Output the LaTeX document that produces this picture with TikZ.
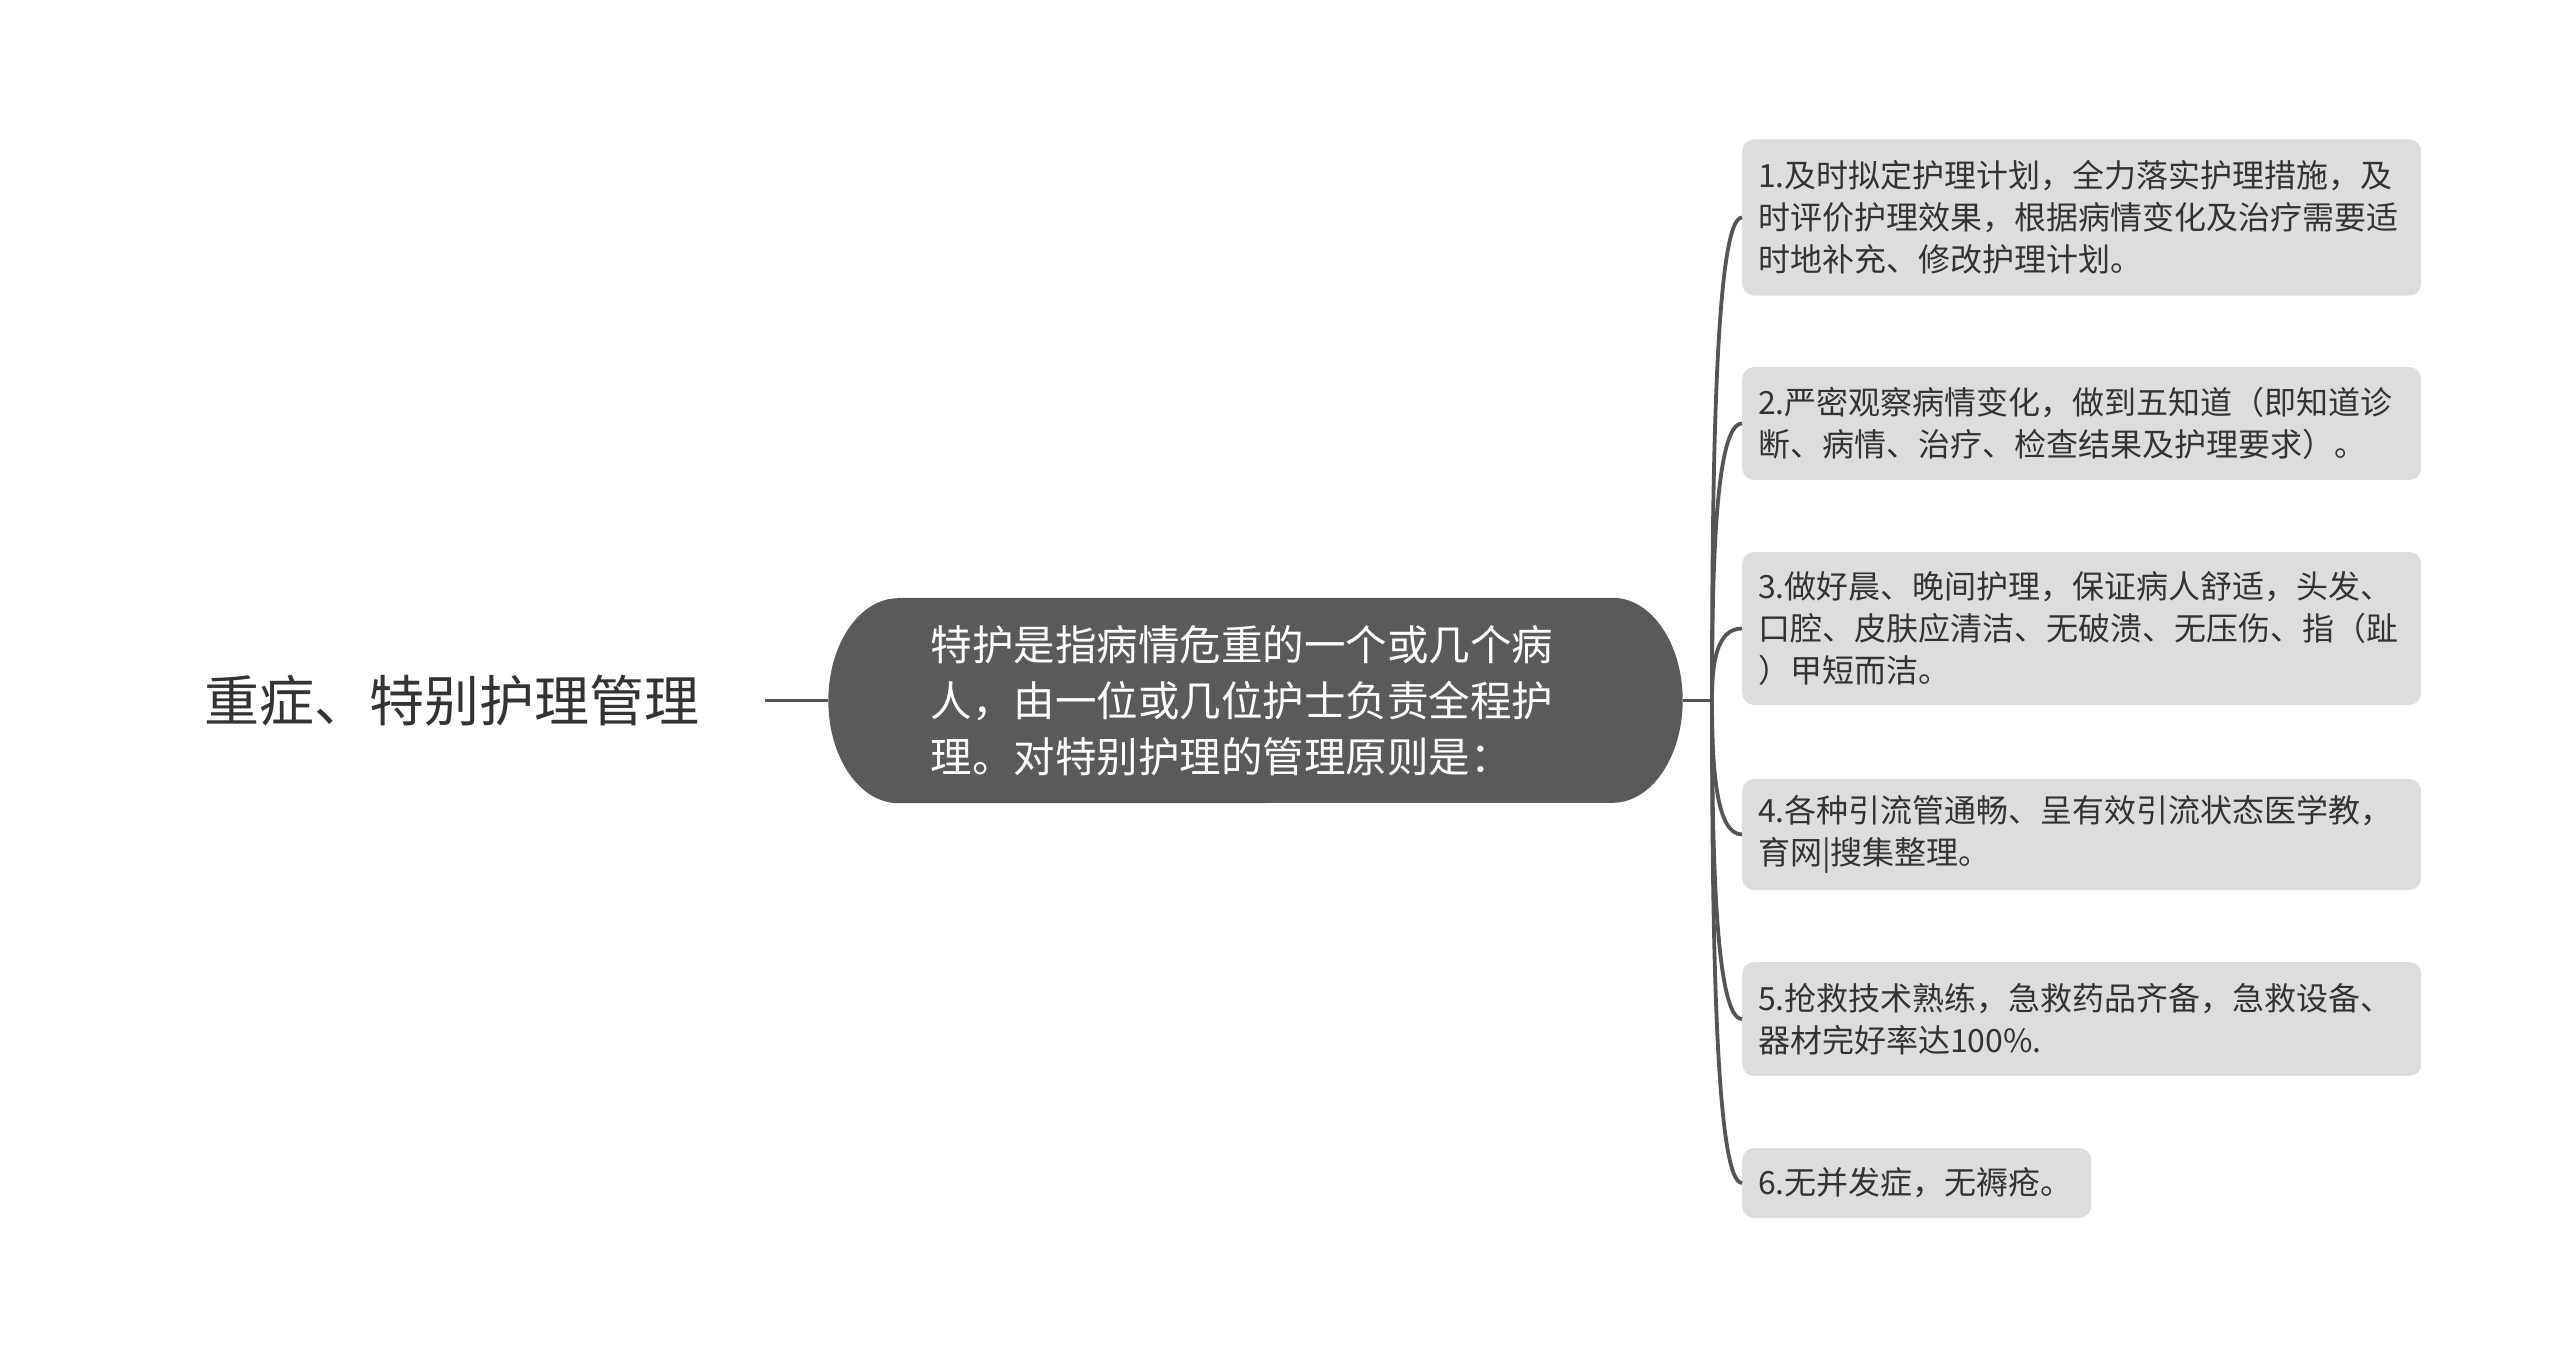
\documentclass[tikz,border=0pt]{standalone}
\usepackage{fontspec}
\setmainfont{Noto Sans CJK SC}
\usetikzlibrary{calc,backgrounds}
\definecolor{linegray}{HTML}{555555}
\definecolor{boxgray}{HTML}{DDDDDD}
\definecolor{centerfill}{HTML}{5A5A5A}
\definecolor{textdark}{HTML}{333333}
\tikzset{
  leafbox/.style={rounded corners=12pt, fill=boxgray, text=textdark, align=left,
    inner xsep=16pt, inner ysep=0pt, anchor=west, text width=647pt,
    font=\fontsize{32}{42}\selectfont},
  conn/.style={draw=linegray, line width=3.8pt},
}
\begin{document}
\begin{tikzpicture}[x=1pt,y=-1pt]
\useasboundingbox (0,0) rectangle (2560,1359);

\node[text=textdark, font=\fontsize{55}{66}\selectfont, inner xsep=65pt] (root) at (452,700.5) {重症、特别护理管理};

\node[text=white, align=left, text width=650pt, inner xsep=102pt, minimum height=205pt,
  font=\fontsize{41.5}{56}\selectfont] (c) at (1255.5,700.5)
  {特护是指病情危重的一个或几个病\\人，由一位或几位护士负责全程护\\理。对特别护理的管理原则是：};
\begin{scope}[on background layer]
\fill[centerfill] ([xshift=70pt]c.north west) -- ([xshift=-70pt]c.north east)
  arc[start angle=90, end angle=-90, x radius=70pt, y radius=102.5pt]
  -- ([xshift=70pt]c.south west)
  arc[start angle=270, end angle=90, x radius=70pt, y radius=102.5pt] -- cycle;
\end{scope}

\node[leafbox, minimum height=156pt] (l1) at (1742,217.5) {1.及时拟定护理计划，全力落实护理措施，及\\时评价护理效果，根据病情变化及治疗需要适\\时地补充、修改护理计划。};
\node[leafbox, minimum height=113pt] (l2) at (1742,423.5) {2.严密观察病情变化，做到五知道（即知道诊\\断、病情、治疗、检查结果及护理要求）。};
\node[leafbox, minimum height=153pt] (l3) at (1742,628.5) {3.做好晨、晚间护理，保证病人舒适，头发、\\口腔、皮肤应清洁、无破溃、无压伤、指（趾\\）甲短而洁。};
\node[leafbox, minimum height=111pt] (l4) at (1742,834.5) {4.各种引流管通畅、呈有效引流状态医学教，\\育网|搜集整理。};
\node[leafbox, minimum height=114pt] (l5) at (1742,1019) {5.抢救技术熟练，急救药品齐备，急救设备、\\器材完好率达100\%.};
\node[leafbox, minimum height=70pt, text width=317pt] (l6) at (1742,1183) {6.无并发症，无褥疮。};

\draw[conn] (root.east) -- (c.west);
\coordinate (t) at (1712,700.5);
\draw[conn] (c.east) -- (t);
\foreach \n in {l1,l2,l3,l4,l5,l6}{
  \draw[conn] (t) .. controls ($(t)!0.5!(t |- \n.west)$) and ([xshift=4pt]t |- \n.west) .. (\n.west);
}
\end{tikzpicture}
\end{document}
